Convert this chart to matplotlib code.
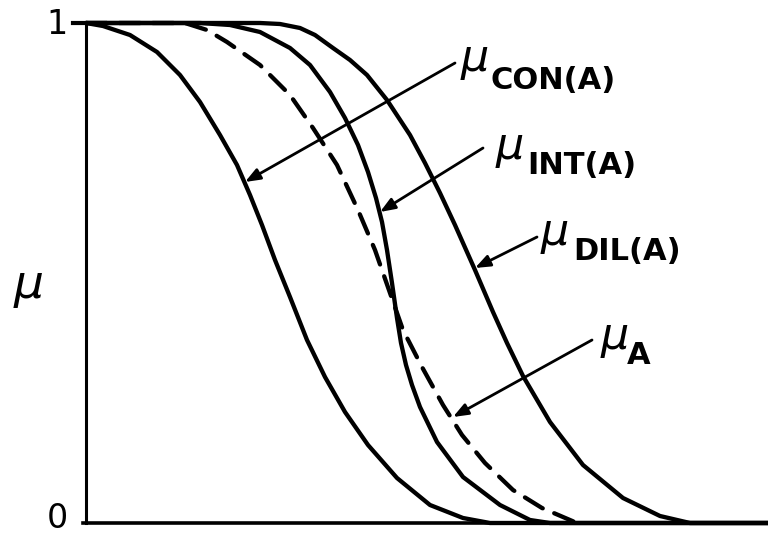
import matplotlib
matplotlib.use("Agg")
import matplotlib.pyplot as plt

plt.rcParams["lines.scale_dashes"] = False
plt.rcParams["font.family"] = ["DejaVu Sans"]
plt.rcParams["mathtext.fontset"] = "dejavusans"

# Membership curves over the universe x in [0, 68.2]; mu in [0, 1]
x_con = [0, 1.7, 4.4, 7.1, 9.4, 11.4, 13.4, 15.1, 16.4, 17.6, 18.9, 20.4, 22.1, 23.9,
         25.9, 28.2, 31.1, 34.4, 37.7, 40.4, 68.2]
mu_con = [1.0, 0.994, 0.976, 0.942, 0.896, 0.842, 0.776, 0.716, 0.656, 0.596, 0.526,
          0.452, 0.366, 0.292, 0.222, 0.156, 0.09, 0.036, 0.01, 0.0, 0.0]

x_int = [0, 11.4, 14.4, 17.4, 20.4, 22.4, 24.4, 25.9, 27.2, 28.2, 29.0, 29.6, 30.1,
         30.6, 31.1, 31.5, 32.0, 32.6, 33.4, 35.1, 37.7, 41.4, 44.4, 46.4, 68.2]
mu_int = [1.0, 1.0, 0.996, 0.982, 0.95, 0.916, 0.862, 0.81, 0.756, 0.702, 0.65, 0.602,
          0.546, 0.48, 0.41, 0.36, 0.316, 0.276, 0.232, 0.162, 0.092, 0.036, 0.006, 0.0, 0.0]

x_a = [0, 9.9, 12.1, 14.1, 17.4, 20.4, 22.7, 25.1, 27.2, 28.9, 30.4, 31.7, 33.6, 35.7,
       37.6, 39.9, 42.7, 45.6, 49.1]
mu_a = [1.0, 1.0, 0.986, 0.962, 0.916, 0.856, 0.79, 0.716, 0.626, 0.546, 0.46, 0.386,
        0.312, 0.236, 0.176, 0.12, 0.066, 0.03, 0.0]

x_dil = [0, 17.4, 19.4, 21.4, 22.9, 24.7, 26.4, 28.1, 30.1, 32.4, 33.9, 35.4, 36.9,
         38.9, 40.7, 42.1, 43.7, 46.4, 49.7, 53.7, 57.4, 60.4, 68.2]
mu_dil = [1.0, 1.0, 0.998, 0.99, 0.976, 0.95, 0.926, 0.896, 0.846, 0.776, 0.72, 0.66,
          0.596, 0.506, 0.422, 0.36, 0.294, 0.202, 0.116, 0.05, 0.014, 0.0, 0.0]

W, H = 768, 536
fig = plt.figure(figsize=(W / 100, H / 100), dpi=100)
fig.patch.set_facecolor("white")

# axes box: left spine at x=86 px, mu=1 at y=23 px, mu=0 at y=523 px
ax = fig.add_axes([86 / W, 1 - 523 / H, (W - 86) / W, 500 / H])
ax.set_xlim(0, 68.2)
ax.set_ylim(0, 1)
ax.axis("off")

lw = 3.1
ink = "black"
for xs, ys in [(x_con, mu_con), (x_int, mu_int), (x_dil, mu_dil)]:
    ax.plot(xs, ys, color=ink, lw=lw, solid_capstyle="round",
            solid_joinstyle="round", clip_on=False)
ax.plot(x_a, mu_a, color=ink, lw=lw, dashes=(15, 9), dash_capstyle="round",
        dash_joinstyle="round", clip_on=False)

# axis lines
ax.plot([0, 0], [0, 1], color=ink, lw=2.2, clip_on=False)
ax.plot([-0.3, 68.2], [0, 0], color=ink, lw=2.6, clip_on=False)
ax.plot([-1.3, 0], [1, 1], color=ink, lw=3.0, clip_on=False)


def px(xp, yp):
    return (xp / W, 1 - yp / H)


# tick labels and axis name
fig.text(*px(57, 25), "1", fontsize=24, ha="center", va="center")
fig.text(*px(57, 519), "0", fontsize=24, ha="center", va="center")
fig.text(*px(28, 287), r"$\mu$", fontsize=34, ha="center", va="center")

# curve labels with leader arrows
arrow_kw = dict(arrowstyle="-|>,head_length=0.9,head_width=0.35", color=ink, lw=2.0,
                shrinkA=0, shrinkB=0)
labels = [
    ("CON(A)", (455, 63), (245, 182), (460, 60), (490, 89)),
    ("INT(A)", (483, 148), (380, 212), (495, 148), (527, 174)),
    ("DIL(A)", (537, 237), (475, 268), (540, 235), (573, 260)),
    ("A", (592, 340), (453, 417), (600, 338), (627, 364)),
]
for sub, start, tip, mu_pos, sub_pos in labels:
    ax.annotate("", xy=px(*tip), xycoords="figure fraction",
                xytext=px(*start), textcoords="figure fraction",
                arrowprops=arrow_kw)
    fig.text(*px(*mu_pos), r"$\mu$", fontsize=32, ha="left", va="center")
    fig.text(*px(*sub_pos), sub, fontsize=22, fontweight="bold", ha="left",
             va="baseline")

fig.savefig("out.png", dpi=100, facecolor="white")
